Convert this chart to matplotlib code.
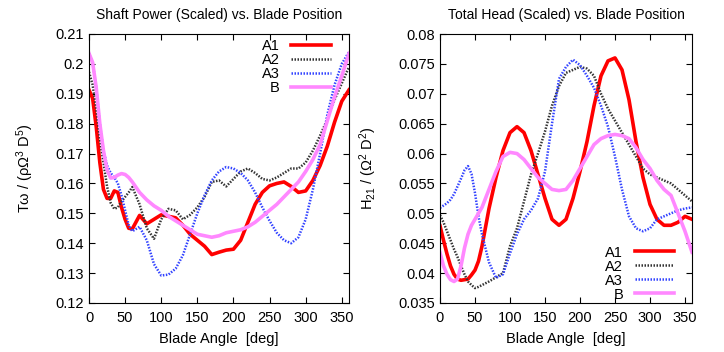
import numpy as np
import matplotlib
matplotlib.use('Agg')
import matplotlib.pyplot as plt

plt.rcParams['font.family'] = ['Liberation Sans', 'DejaVu Sans']
plt.rcParams['mathtext.fontset'] = 'custom'
plt.rcParams['mathtext.rm'] = 'Liberation Sans'
plt.rcParams['mathtext.it'] = 'Liberation Sans'

# 0~60도는 5도 간격, 그 뒤는 10도 간격
angle = list(range(0, 61, 5)) + list(range(70, 361, 10))

# 축 동력 (왼쪽)
pw_a1 = [0.1913, 0.1885, 0.179, 0.167, 0.158, 0.155, 0.155, 0.1575, 0.157, 0.152, 0.148, 0.145, 0.1448,
         0.1493, 0.1465, 0.148,
         0.1495, 0.149, 0.1485, 0.146, 0.143, 0.141, 0.139, 0.1362, 0.137, 0.1377,
         0.138, 0.141, 0.147, 0.153, 0.157, 0.1592, 0.160, 0.1605, 0.159, 0.157,
         0.1575, 0.161, 0.166, 0.1725, 0.1805, 0.1875, 0.1913]
pw_a2 = [0.1973, 0.193, 0.185, 0.175, 0.167, 0.159, 0.1535, 0.1515, 0.152, 0.154, 0.1555, 0.157, 0.1588,
         0.153, 0.145, 0.1415,
         0.148, 0.1515, 0.151, 0.148, 0.1495, 0.152, 0.1555, 0.1605, 0.161, 0.159,
         0.1615, 0.164, 0.165, 0.1635, 0.1615, 0.161, 0.162, 0.1635, 0.165, 0.165,
         0.167, 0.171, 0.176, 0.1815, 0.188, 0.1935, 0.199]
pw_a3 = [0.2035, 0.2005, 0.192, 0.180, 0.171, 0.166, 0.1635, 0.162, 0.160, 0.156, 0.151, 0.146, 0.144,
         0.1455, 0.141, 0.133,
         0.1292, 0.1295, 0.1315, 0.136, 0.143, 0.150, 0.156, 0.161, 0.164, 0.1655,
         0.165, 0.1635, 0.161, 0.157, 0.152, 0.1475, 0.1435, 0.141, 0.140, 0.142,
         0.148, 0.158, 0.170, 0.183, 0.193, 0.200, 0.204]
pw_b = [0.2035, 0.2005, 0.192, 0.180, 0.171, 0.1645, 0.1618, 0.162, 0.1628, 0.1633, 0.163, 0.162, 0.1605,
        0.157, 0.1545, 0.1525,
        0.151, 0.149, 0.1475, 0.146, 0.1445, 0.143, 0.1425, 0.142, 0.1425, 0.1435,
        0.144, 0.1445, 0.1455, 0.147, 0.149, 0.151, 0.153, 0.1555, 0.158, 0.1605,
        0.164, 0.168, 0.173, 0.181, 0.189, 0.196, 0.2035]

# 전양정 (오른쪽)
hd_a1 = [0.0479, 0.0455, 0.0432, 0.0412, 0.0398, 0.039, 0.0388, 0.0389, 0.039, 0.0397, 0.0405, 0.042, 0.0445,
         0.0508, 0.056, 0.0605,
         0.0635, 0.0645, 0.0635, 0.0605, 0.0565, 0.0525, 0.049, 0.048, 0.049, 0.0525,
         0.057, 0.062, 0.068, 0.073, 0.0755, 0.076, 0.074, 0.069, 0.062, 0.056,
         0.0515, 0.049, 0.048, 0.048, 0.0485, 0.0495, 0.049]
hd_a2 = [0.0497, 0.0485, 0.047, 0.0455, 0.044, 0.0427, 0.0412, 0.0398, 0.0386, 0.038, 0.0375, 0.0377, 0.038,
         0.0386, 0.0393, 0.040,
         0.0445, 0.0475, 0.052, 0.0565, 0.060, 0.0637, 0.068, 0.0713, 0.0735, 0.074,
         0.0745, 0.0742, 0.073, 0.070, 0.0675, 0.0655, 0.0635, 0.0615, 0.0595, 0.0575,
         0.0565, 0.056, 0.0555, 0.055, 0.054, 0.053, 0.052]
hd_a3 = [0.0509, 0.0513, 0.0517, 0.0523, 0.0532, 0.0545, 0.0558, 0.0572, 0.0579, 0.0566, 0.0534, 0.0495, 0.0465,
         0.0418, 0.0392, 0.0398,
         0.0433, 0.0465, 0.049, 0.0505, 0.0525, 0.057, 0.065, 0.0725, 0.0745, 0.0757,
         0.0748, 0.073, 0.071, 0.068, 0.0645, 0.0595, 0.054, 0.0495, 0.0475, 0.047,
         0.0475, 0.049, 0.0495, 0.050, 0.0505, 0.0508, 0.051]
hd_b = [0.0434, 0.0412, 0.0398, 0.0389, 0.0386, 0.039, 0.0412, 0.0442, 0.0465, 0.048, 0.049, 0.050, 0.051,
        0.054, 0.057, 0.0595,
        0.0602, 0.060, 0.059, 0.0575, 0.056, 0.055, 0.054, 0.0538, 0.054, 0.0555,
        0.0575, 0.0595, 0.0615, 0.0625, 0.063, 0.0632, 0.063, 0.0625, 0.061, 0.059,
        0.0575, 0.0555, 0.054, 0.053, 0.050, 0.047, 0.0435]

names = ['A1', 'A2', 'A3', 'B']
styles = [dict(color='#ff0000', lw=2.6, ls='-'),
          dict(color='#333333', lw=1.8, ls=(0, (0.6, 0.6))),
          dict(color='#3344ff', lw=1.8, ls=(0, (0.6, 0.6))),
          dict(color='#ff88ff', lw=2.6, ls='-')]

fig = plt.figure(figsize=(7.24, 3.52), dpi=100)
ax1 = fig.add_axes([89/724, 49/352, 260/724, 269/352])
ax2 = fig.add_axes([440/724, 49/352, 252/724, 269/352])

for name, st, y in zip(names, styles, [pw_a1, pw_a2, pw_a3, pw_b]):
    ax1.plot(angle, y, label=name, **st)
for name, st, y in zip(names, styles, [hd_a1, hd_a2, hd_a3, hd_b]):
    ax2.plot(angle, y, label=name, **st)

ax1.set_ylim(0.12, 0.21)
ax1.set_yticks(np.arange(0.12, 0.2101, 0.01))
ax1.set_yticklabels(['0.12', '0.13', '0.14', '0.15', '0.16', '0.17', '0.18', '0.19', '0.2', '0.21'])
ax1.set_title('Shaft Power (Scaled) vs. Blade Position', fontsize=10, pad=11)
ax1.set_ylabel('Tω / (ρΩ$^3$ D$^5$)', fontsize=10.5, labelpad=14)

ax2.set_ylim(0.035, 0.08)
ax2.set_yticks(np.arange(0.035, 0.0801, 0.005))
ax2.set_yticklabels(['0.035', '0.04', '0.045', '0.05', '0.055', '0.06', '0.065', '0.07', '0.075', '0.08'])
ax2.set_title('Total Head (Scaled) vs. Blade Position', fontsize=10, pad=11)
ax2.set_ylabel('H$_{21}$ / (Ω$^2$ D$^2$)', fontsize=10.5, labelpad=14)

for ax in (ax1, ax2):
    ax.set_xlim(0, 360)
    ax.set_xticks(range(0, 351, 50))
    ax.set_xlabel('Blade Angle  [deg]', fontsize=10.5, labelpad=5)
    ax.tick_params(direction='in', top=True, right=True, labelsize=10.5, length=4)
    ax.tick_params(axis='x', pad=6)

ax1.legend(loc='upper right', bbox_to_anchor=(0.935, 0.988), frameon=False, markerfirst=False,
           fontsize=10.5, handlelength=2.7, labelspacing=0.0, borderaxespad=0, borderpad=0.1,
           handletextpad=0.8)
ax2.legend(loc='lower right', bbox_to_anchor=(0.935, 0.0), frameon=False, markerfirst=False,
           fontsize=10.5, handlelength=2.7, labelspacing=0.0, borderaxespad=0, borderpad=0.1,
           handletextpad=0.8)

fig.savefig('out.png', dpi=100)
